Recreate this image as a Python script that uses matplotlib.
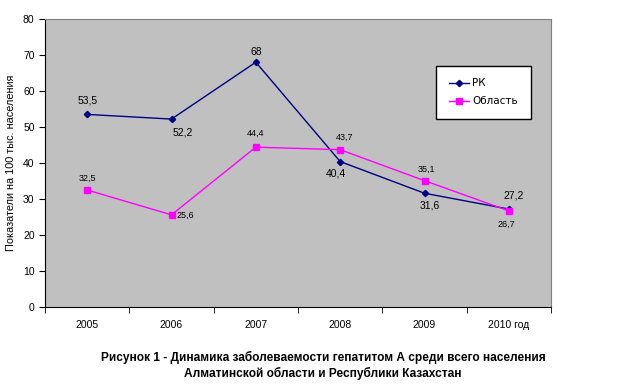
import matplotlib
matplotlib.use("Agg")
import matplotlib.pyplot as plt
import numpy as np

categories = ["2005", "2006", "2007", "2008", "2009", "2010 год"]
rk = [53.5, 52.2, 68, 40.4, 31.6, 27.2]
oblast = [32.5, 25.6, 44.4, 43.7, 35.1, 26.7]
rk_labels = ["53,5", "52,2", "68", "40,4", "31,6", "27,2"]
ob_labels = ["32,5", "25,6", "44,4", "43,7", "35,1", "26,7"]

plt.rcParams['font.family'] = ['Liberation Sans', 'DejaVu Sans']

fig = plt.figure(figsize=(6.23, 3.87), dpi=100)
ax = fig.add_axes([45/623, 1-307/387, (551-45)/623, (307-19)/387])
ax.set_facecolor('#C0C0C0')
x = np.arange(len(categories))
ax.plot(x, rk, color='#000080', marker='D', markersize=3.2, lw=1, label='РК')
ax.plot(x, oblast, color='#FF00FF', marker='s', markersize=5, lw=1, label='Область')

ax.set_xlim(-0.5, len(categories)-0.5)
ax.set_ylim(0, 80)
ax.set_yticks(range(0, 81, 10))
ax.set_xticks(x)
ax.set_xticklabels(categories, fontsize=7.5)
ax.set_xticks(np.arange(-0.5, len(categories)), minor=True)
ax.tick_params(axis='x', which='major', length=0, pad=9)
ax.tick_params(axis='x', which='minor', length=4, color='black', direction='out')
ax.tick_params(axis='y', length=4, color='black', direction='out', labelsize=7.5)
for s in ['top', 'right']:
    ax.spines[s].set_color('#808080')
for s in ['left', 'bottom']:
    ax.spines[s].set_color('black')

# label offsets (points)
rk_off = [(0, 10), (8, -10), (0, 7.2), (-3, -8.6), (3.5, -8.6), (3.5, 10)]
ob_off = [(0, 8.6), (10, 0), (0, 10), (3.5, 8.6), (1.5, 8), (-2, -9.4)]
for i in range(len(categories)):
    ax.annotate(rk_labels[i], (x[i], rk[i]), xytext=rk_off[i], textcoords='offset points',
                ha='center', va='center', fontsize=7.5)
    ax.annotate(ob_labels[i], (x[i], oblast[i]), xytext=ob_off[i], textcoords='offset points',
                ha='center', va='center', fontsize=6.5)

leg = ax.legend(loc='upper left', bbox_to_anchor=((436-45)/506, 1-(66-19)/288),
                prop={'family': 'DejaVu Sans', 'size': 7.5},
                frameon=True, fancybox=False, edgecolor='black',
                borderpad=1.2, labelspacing=0.75, handlelength=2.0, handletextpad=0.3,
                borderaxespad=0)
leg.get_frame().set_linewidth(1)
leg.get_frame().set_facecolor('white')
leg.get_frame().set_alpha(1)

ax.set_ylabel('Показатели на 100 тыс. населения', fontsize=7.8)
ax.yaxis.set_label_coords(-0.057, 0.5)

fig.text(323/623, 1-357/387, 'Рисунок 1 - Динамика заболеваемости гепатитом А среди всего населения',
         ha='center', va='center', fontsize=8.6, fontweight='bold')
fig.text(323/623, 1-373/387, 'Алматинской области и Республики Казахстан',
         ha='center', va='center', fontsize=8.6, fontweight='bold')

fig.savefig('out.png', dpi=100)
